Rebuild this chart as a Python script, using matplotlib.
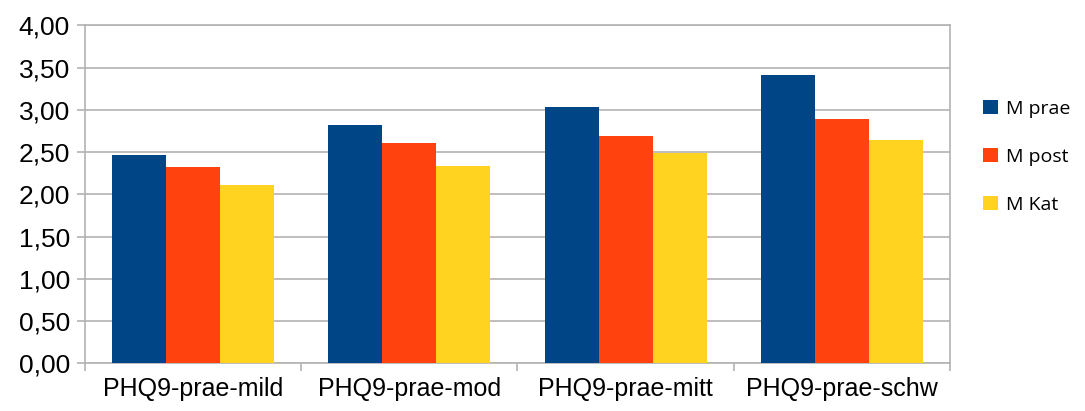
import matplotlib
matplotlib.use("Agg")
import matplotlib.pyplot as plt
import numpy as np
from matplotlib.ticker import FuncFormatter, MultipleLocator

categories = ["PHQ9-prae-mild", "PHQ9-prae-mod", "PHQ9-prae-mitt", "PHQ9-prae-schw"]
series_names = ["M prae", "M post", "M Kat"]
m_prae = [2.47, 2.82, 3.03, 3.41]
m_post = [2.33, 2.61, 2.69, 2.89]
m_kat = [2.11, 2.34, 2.49, 2.65]
colors = ["#004586", "#ff420e", "#ffd320"]

fig = plt.figure(figsize=(10.85, 4.11), dpi=100)
ax = fig.add_axes([0.0783, 0.116, 0.7973, 0.822])

x = np.arange(len(categories))
w = 0.25
handles = []
for i, (vals, name, c) in enumerate(zip([m_prae, m_post, m_kat], series_names, colors)):
    b = ax.bar(x + (i - 1) * w, vals, width=w, color=c, label=name, zorder=3)
    handles.append(b)

ax.set_xlim(-0.5, len(categories) - 0.5)
ax.set_ylim(0, 4)
ax.yaxis.set_major_locator(MultipleLocator(0.5))
ax.yaxis.set_major_formatter(FuncFormatter(lambda v, p: f"{v:.2f}".replace(".", ",")))
ax.grid(axis="y", color="#b3b3b3", linewidth=1.2, zorder=0)
for s in ax.spines.values():
    s.set_color("#b3b3b3")
    s.set_linewidth(1.2)

ax.set_xticks(x)
ax.set_xticklabels(categories, fontsize=18, family=["Liberation Sans", "DejaVu Sans"])
ax.set_xticks(np.arange(len(categories) + 1) - 0.5, minor=True)
ax.tick_params(axis="x", which="major", length=0, pad=10)
ax.tick_params(axis="x", which="minor", length=6, color="#b3b3b3", width=1.2)
ax.tick_params(axis="y", length=5.8, color="#b3b3b3", width=1.2, labelsize=19, pad=5)
for lab in ax.get_yticklabels():
    lab.set_family(["Liberation Sans", "DejaVu Sans"])

leg = fig.legend(handles=handles, labels=series_names, loc="upper left",
                 bbox_to_anchor=(0.89, 0.80), frameon=False,
                 prop={"family": ["Open Sans", "DejaVu Sans"], "size": 14},
                 handlelength=0.75, handleheight=0.75, handletextpad=0.45, labelspacing=1.55)

fig.savefig("out.png", dpi=100)
